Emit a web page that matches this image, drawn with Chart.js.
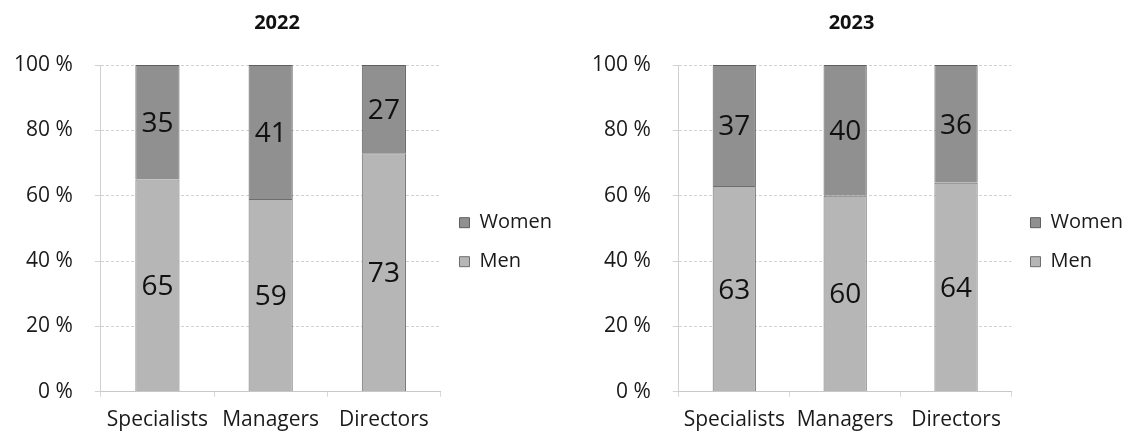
<!DOCTYPE html>
<html>
<head>
    <meta charset="UTF-8">
    <title>Men and women by role</title>
    <style>
        body {
            margin: 0;
            background-color: white;
        }
        .chartBox {
            position: absolute;
            top: 0;
            width: 566px;
            height: 435px;
        }
        #box2022 { left: 0; }
        #box2023 { left: 566px; width: 567px; }
    </style>
    <script src="https://cdn.jsdelivr.net/npm/chart.js"></script>
</head>
<body>
    <div class="chartBox" id="box2022"><canvas id="chart2022"></canvas></div>
    <div class="chartBox" id="box2023"><canvas id="chart2023"></canvas></div>
    <script>
        // data
        const categories = ['Specialists', 'Managers', 'Directors'];
        const men2022 = [65, 59, 73];
        const women2022 = [35, 41, 27];
        const men2023 = [63, 60, 64];
        const women2023 = [37, 40, 36];
        const yTicks = [0, 20, 40, 60, 80, 100];

        const fontName = "'Open Sans', 'DejaVu Sans', sans-serif";
        const womenColor = '#909090';
        const menColor = '#b6b6b6';

        // puts the value in the middle of each bar segment
        const barLabels = {
            id: 'barLabels',
            afterDatasetsDraw(chart) {
                const ctx = chart.ctx;
                ctx.save();
                ctx.font = '28px ' + fontName;
                ctx.fillStyle = '#111';
                ctx.textAlign = 'center';
                ctx.textBaseline = 'middle';
                chart.data.datasets.forEach(function (ds, i) {
                    chart.getDatasetMeta(i).data.forEach(function (bar, j) {
                        ctx.fillText(ds.data[j], bar.x, (bar.y + bar.base) / 2 + 2);
                    });
                });
                ctx.restore();
            }
        };

        function makeChart(canvasId, year, men, women, pad) {
            const config = {
                type: 'bar',
                data: {
                    labels: categories,
                    datasets: [{
                        label: 'Men',
                        data: men,
                        backgroundColor: menColor,
                        borderColor: '#6e6e6e',
                        borderWidth: 1,
                        barPercentage: 0.39,
                        categoryPercentage: 1
                    }, {
                        label: 'Women',
                        data: women,
                        backgroundColor: womenColor,
                        borderColor: '#5e5e5e',
                        borderWidth: 1,
                        barPercentage: 0.39,
                        categoryPercentage: 1
                    }]
                },
                options: {
                    responsive: true,
                    maintainAspectRatio: false,
                    animation: false,
                    layout: {
                        padding: pad
                    },
                    scales: {
                        x: {
                            stacked: true,
                            grid: {
                                drawOnChartArea: false,
                                tickLength: 5,
                                color: '#d8d8d8'
                            },
                            border: { color: '#c8c8c8', dash: [3, 2] },
                            ticks: {
                                color: '#1a1a1a',
                                padding: 11,
                                font: { family: fontName, size: 21 }
                            }
                        },
                        y: {
                            stacked: true,
                            min: 0,
                            max: 100,
                            afterBuildTicks: function (axis) {
                                axis.ticks = yTicks.map(function (v) { return { value: v }; });
                            },
                            grid: {
                                color: '#d2d2d2',
                                tickLength: 6
                            },
                            border: { color: '#d0d0d0', dash: [3, 2] },
                            ticks: {
                                color: '#1a1a1a',
                                padding: 22,
                                font: { family: fontName, size: 21 },
                                callback: function (v) { return v + ' %'; }
                            }
                        }
                    },
                    plugins: {
                        title: {
                            display: true,
                            text: year,
                            color: '#111',
                            font: { family: fontName, size: 20, weight: 'bold' },
                            padding: { top: 11, bottom: 30 }
                        },
                        legend: {
                            position: 'right',
                            reverse: true,
                            title: {
                                display: true,
                                text: '',
                                padding: { top: 13, bottom: 13 }
                            },
                            labels: {
                                boxWidth: 10,
                                boxHeight: 10,
                                padding: 19,
                                color: '#1a1a1a',
                                font: { family: fontName, size: 20 }
                            }
                        },
                        tooltip: { enabled: false }
                    }
                },
                plugins: [barLabels]
            };
            return new Chart(document.getElementById(canvasId), config);
        }

        makeChart('chart2022', '2022', men2022, women2022, { left: -8, right: 4, bottom: -9 });
        makeChart('chart2023', '2023', men2023, women2023, { left: 4, right: 0, bottom: -9 });
    </script>
</body>
</html>
